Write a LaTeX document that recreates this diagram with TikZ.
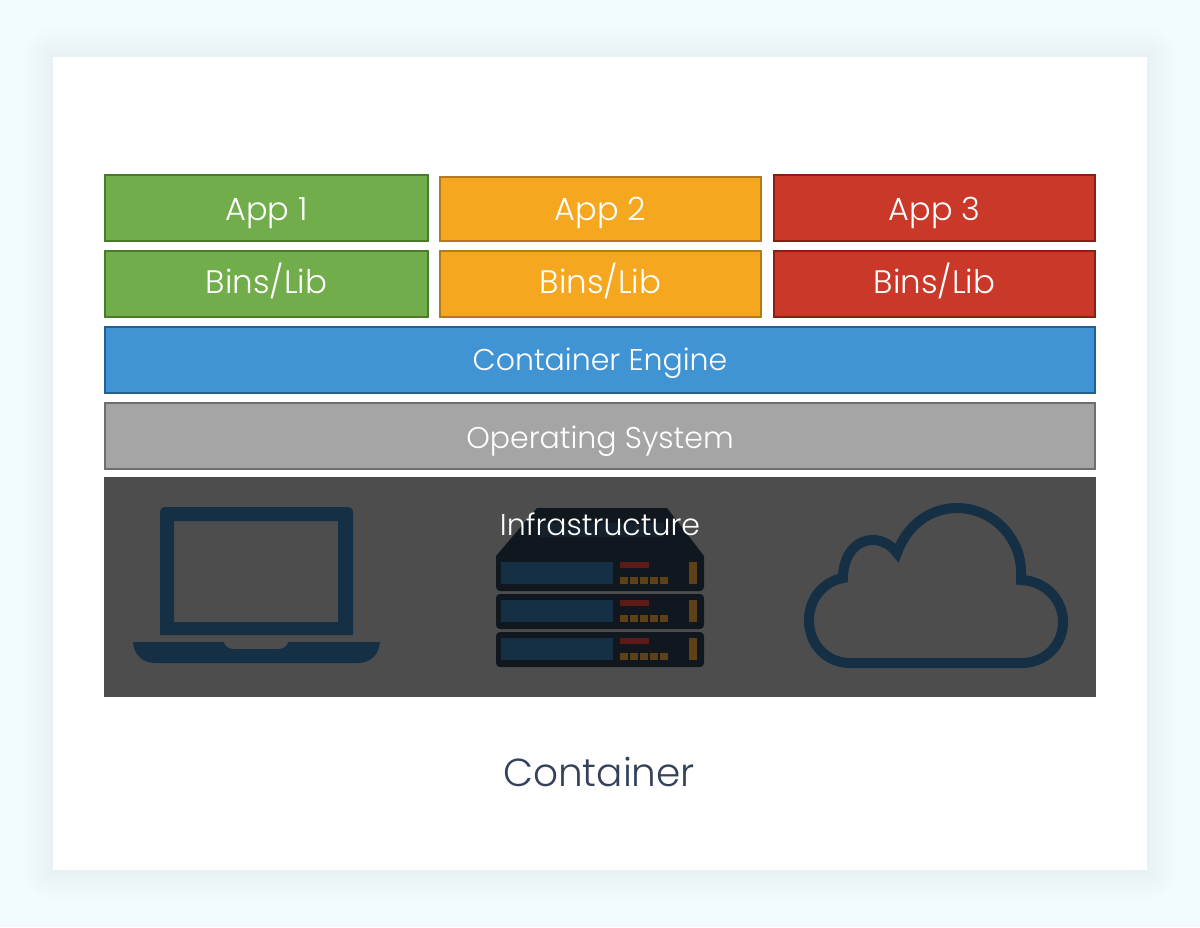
\documentclass[tikz,border=0pt]{standalone}
\usepackage{fontspec}
\setmainfont{Poppins Light}
\definecolor{pagebg}{HTML}{F2FBFE}
\definecolor{shadowc}{HTML}{B8D8E0}
\definecolor{grn}{HTML}{72AD4B}\definecolor{grnd}{HTML}{4B7A2A}
\definecolor{org}{HTML}{F5A71F}\definecolor{orgd}{HTML}{B57A1E}
\definecolor{rdd}{HTML}{C93828}\definecolor{rddd}{HTML}{8A1F14}
\definecolor{blu}{HTML}{4094D3}\definecolor{blud}{HTML}{25618F}
\definecolor{gry}{HTML}{A5A5A5}\definecolor{gryd}{HTML}{6E6E6E}
\definecolor{infra}{HTML}{4D4D4D}
\definecolor{icon}{HTML}{152F45}
\definecolor{srv}{HTML}{10171F}
\definecolor{srvhi}{HTML}{15222D}
\definecolor{srvred}{HTML}{5C1A18}
\definecolor{srvorg}{HTML}{5E4116}
\definecolor{capt}{HTML}{33415A}
\tikzset{
  x=1pt,y=-1pt,
  layerbox/.style={draw=#1,line width=2pt,inner sep=0pt,outer sep=0pt,text=white,font=\fontsize{30}{34}\selectfont,anchor=north west,text depth=0pt},
  appfont/.style={font=\fontsize{32}{36}\selectfont},
  binfont/.style={font=\fontsize{32.5}{36}\selectfont},
  appw/.style={minimum width=323pt,minimum height=66pt},
  fullw/.style={minimum width=990pt,minimum height=66pt},
}
\newcommand{\rackunit}[1]{%
  \fill[srv,rounded corners=4pt] (496,#1) rectangle (704,#1+35);
  \fill[icon] (501,#1+6) rectangle (613,#1+28);
  \fill[srvred] (620,#1+6) rectangle (649,#1+12);
  \foreach \k in {0,1,2,3,4} {\fill[srvorg] (620+10*\k,#1+21) rectangle (628+10*\k,#1+28);}
  \fill[srvorg] (689,#1+6) rectangle (697,#1+28);
}
\begin{document}
\begin{tikzpicture}
\useasboundingbox (0,0) rectangle (1200,927);
\fill[pagebg] (0,0) rectangle (1200,927);
% soft card shadow
\foreach \d in {30,27,...,3} {
  \fill[shadowc,opacity=0.008,rounded corners=\d pt] (53-\d,57-\d) rectangle (1147+\d,870+\d);
}
\fill[white] (53,57) rectangle (1147,870);

% App row
\node[layerbox=grnd,fill=grn,appw,appfont,text height=24pt] (app1) at (105,175) {App 1};
\node[layerbox=orgd,fill=org,minimum width=321pt,minimum height=64pt,appfont,text height=22pt] (app2) at (440,177) {App 2};
\node[layerbox=rddd,fill=rdd,minimum width=321pt,minimum height=66pt,appfont,text height=24pt] (app3) at (774,175) {App 3};
% Bins row
\node[layerbox=grnd,fill=grn,appw,binfont,text height=18pt] (bin1) at (105,251) {Bins/Lib};
\node[layerbox=orgd,fill=org,minimum width=321pt,minimum height=66pt,binfont,text height=18pt] (bin2) at (440,251) {Bins/Lib};
\node[layerbox=rddd,fill=rdd,minimum width=321pt,minimum height=66pt,binfont,text height=18pt] (bin3) at (774,251) {Bins/Lib};
% Full rows
\node[layerbox=blud,fill=blu,fullw,text height=21pt] (engine) at (105,327) {Container Engine};
\node[layerbox=gryd,fill=gry,fullw,text height=25pt] (os) at (105,403) {Operating System};

% Infrastructure band
\fill[infra] (104,477) rectangle (1096,697);

% Laptop
\fill[icon,even odd rule]
  (160,635) -- (160,513) .. controls (160,509) and (162,507) .. (166,507) -- (347,507)
  .. controls (351,507) and (353,509) .. (353,513) -- (353,635) -- cycle
  (174,521) rectangle (338,622);
\fill[icon] (133,642) -- (224,642) .. controls (225,647) and (229,649) .. (234,649)
  -- (278,649) .. controls (283,649) and (287,647) .. (288,642) -- (380,642)
  .. controls (379,655) and (370,663) .. (358,663) -- (155,663)
  .. controls (143,663) and (134,655) .. (133,642) -- cycle;

% Server
\fill[srv] (537,508) -- (667,508) -- (704,556) -- (704,560) -- (496,560) -- (496,556) -- cycle;
\fill[srvhi] (540,523) rectangle (664,537);
\rackunit{556}
\rackunit{594}
\rackunit{632}

% Cloud
\draw[icon,line width=10pt,miter limit=10]
  (850,663) -- (1022,663)
  .. controls (1045,663) and (1063,645) .. (1063,622)
  .. controls (1063,599) and (1045,581) .. (1021,580)
  -- (1021,572)
  .. controls (1021,537) and (992,508) .. (957,508)
  .. controls (930,508) and (907,525) .. (897,553)
  .. controls (891,545) and (882,540) .. (873,540)
  .. controls (856,540) and (843,555) .. (843,578)
  .. controls (822,582) and (809,600) .. (809,620)
  .. controls (809,645) and (827,663) .. (850,663) -- cycle;

\node[text=white,font=\fontsize{30}{34}\selectfont,inner sep=0pt] (infralabel) at (600,524) {Infrastructure};
\node[text=capt,font=\fontsize{39}{44}\selectfont,inner sep=0pt] (caption) at (599,772) {Container};
\end{tikzpicture}
\end{document}
